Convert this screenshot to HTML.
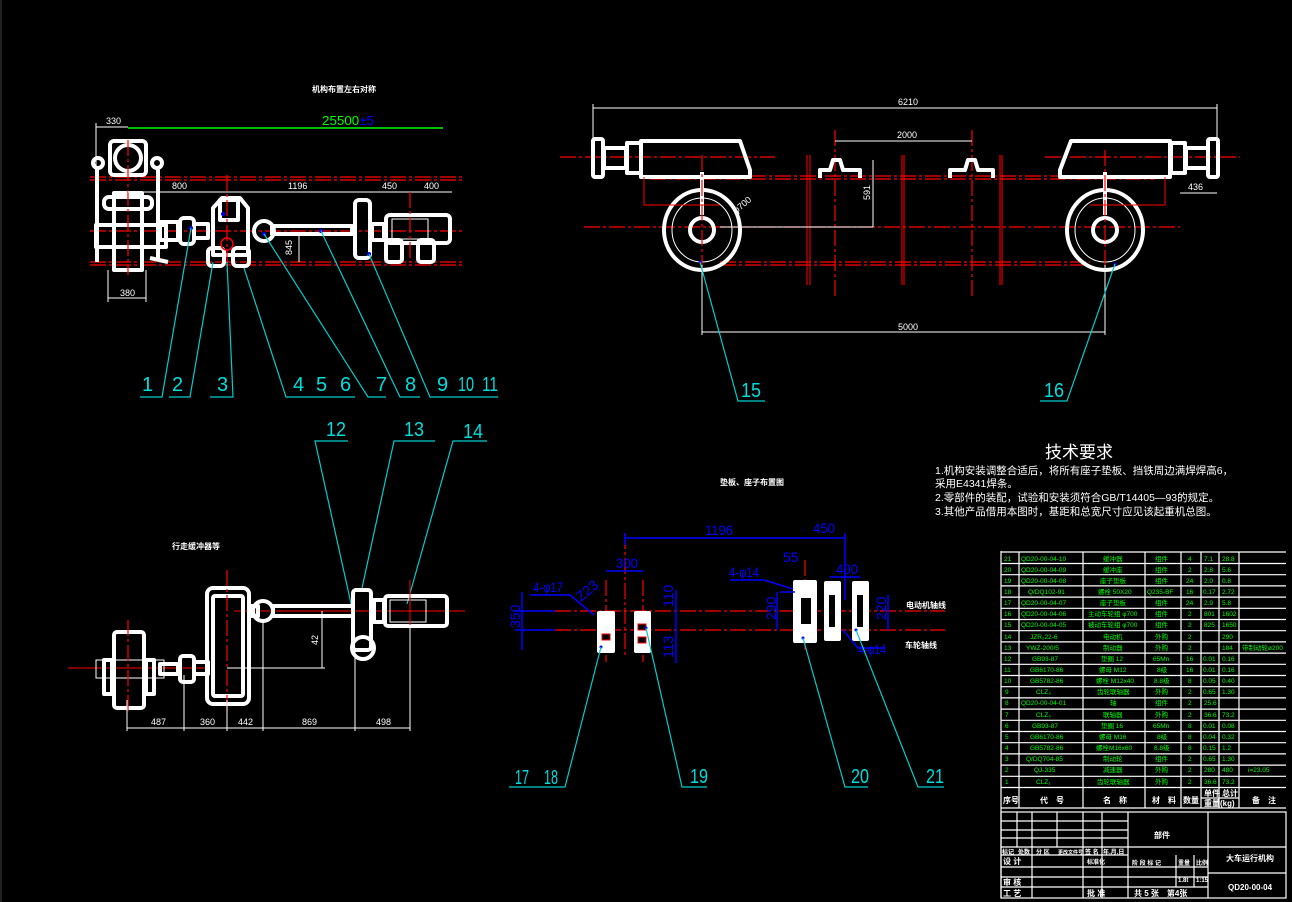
<!DOCTYPE html>
<html><head><meta charset="utf-8"><style>
html,body{margin:0;padding:0;background:#000;}
svg{display:block;}
text{font-family:"Liberation Sans","Noto Sans CJK SC",sans-serif;}
.w{fill:none;stroke:#fff;stroke-width:4;stroke-linejoin:round;}
.t{fill:none;stroke:#fff;stroke-width:1;}
.r{fill:none;stroke:#f00;stroke-width:1.2;stroke-dasharray:16 3 3 3;}
.rs{fill:none;stroke:#f00;stroke-width:1;}
.c{fill:none;stroke:#0cc;stroke-width:1.2;}
.b{fill:none;stroke:#00f;stroke-width:1.5;}
.lab{fill:#0dd;font-size:20px;}
.dim{fill:#fff;font-size:9px;}
.bd{fill:#00f;font-size:14px;}
.g{fill:#0f0;font-size:6.5px;}
.tb{fill:#fff;font-size:8px;font-weight:bold;}
</style></head><body>
<svg width="1292" height="902" viewBox="0 0 1292 902" xmlns="http://www.w3.org/2000/svg">
<rect x="0" y="0" width="1292" height="902" fill="#000"/>
<line x1="1" y1="0" x2="1" y2="902" stroke="#444"/>

<!-- ===== TOP LEFT ===== -->
<text x="312" y="92" class="tb" font-size="9">机构布置左右对称</text>
<line x1="128" y1="128" x2="443" y2="128" stroke="#0f0" stroke-width="1.5"/>
<text x="322" y="125" fill="#0f0" font-size="13" textLength="52" lengthAdjust="spacingAndGlyphs">25500<tspan fill="#00f">±5</tspan></text>
<line x1="96" y1="127" x2="128" y2="127" class="t"/><line x1="96" y1="123" x2="96" y2="170" class="t"/>
<text x="106" y="124" class="dim">330</text>
<line x1="90" y1="177" x2="465" y2="177" class="r"/><line x1="90" y1="180" x2="465" y2="180" class="r"/>
<line x1="90" y1="262" x2="465" y2="262" class="r"/><line x1="90" y1="265" x2="465" y2="265" class="r"/>
<line x1="90" y1="231" x2="465" y2="231" class="r"/>
<rect x="110" y="141" width="36" height="34" rx="4" class="w"/>
<circle cx="128" cy="158" r="13" class="w"/>
<circle cx="98" cy="163" r="5" class="w"/><circle cx="157" cy="163" r="5" class="w"/>
<line x1="97" y1="168" x2="97" y2="262" class="w"/><line x1="158" y1="168" x2="158" y2="258" class="w"/>
<rect x="114" y="193" width="28" height="77" class="w"/>
<rect x="104" y="197" width="48" height="12" rx="5" class="w"/>
<rect x="96" y="225" width="70" height="22" class="w"/>
<line x1="150" y1="258" x2="168" y2="262" class="w"/>
<line x1="128" y1="140" x2="128" y2="275" class="r"/>
<line x1="128" y1="192" x2="452" y2="192" class="t"/>
<text x="172" y="189" class="dim">800</text><text x="288" y="189" class="dim">1196</text>
<text x="382" y="189" class="dim">450</text><text x="424" y="189" class="dim">400</text>
<rect x="160" y="222" width="18" height="18" class="w"/><rect x="180" y="218" width="14" height="26" rx="4" class="w"/><rect x="194" y="224" width="14" height="14" class="w"/>
<path d="M213 222 L213 208 L222 198 L240 198 L248 208 L248 255 L213 255 Z" class="w"/>
<rect x="220" y="200" width="18" height="20" class="w"/>
<rect x="208" y="248" width="16" height="18" rx="4" class="w"/><rect x="233" y="248" width="16" height="18" rx="4" class="w"/>
<circle cx="227" cy="244" r="6" fill="none" stroke="#f00" stroke-width="1.5"/>
<line x1="227" y1="175" x2="227" y2="272" class="r"/>
<circle cx="264" cy="231" r="10" class="w"/>
<rect x="272" y="226" width="80" height="8" class="w"/>
<rect x="355" y="200" width="15" height="58" rx="4" class="w"/>
<rect x="372" y="224" width="12" height="16" class="w"/>
<rect x="386" y="215" width="64" height="28" rx="4" class="w"/>
<rect x="392" y="219" width="36" height="20" class="t"/>
<rect x="386" y="240" width="16" height="22" rx="3" class="w"/><rect x="418" y="240" width="16" height="22" rx="3" class="w"/>
<line x1="410" y1="192" x2="410" y2="262" class="r"/>
<line x1="299" y1="236" x2="299" y2="262" class="t"/><text x="292" y="255" class="dim" transform="rotate(-90 292 255)">845</text>
<line x1="108" y1="270" x2="108" y2="302" class="t"/><line x1="146" y1="270" x2="146" y2="302" class="t"/>
<line x1="108" y1="298" x2="146" y2="298" class="t"/><text x="120" y="296" class="dim">380</text>
<g fill="#00f"><circle cx="191" cy="228" r="2"/><circle cx="223" cy="214" r="2"/><circle cx="264" cy="234" r="2"/><circle cx="321" cy="231" r="2"/><circle cx="369" cy="254" r="2"/></g>
<g class="c">
<polyline points="191,228 162,397 140,397"/>
<polyline points="213,262 190,397 169,397"/>
<polyline points="227,262 233,397 210,397"/>
<polyline points="244,268 286,397 355,397"/>
<polyline points="264,234 368,397 386,397"/>
<polyline points="321,231 400,397 420,397"/>
<polyline points="369,254 430,397 498,397"/>
</g>
<g class="lab"><text x="142" y="391">1</text><text x="172" y="391">2</text><text x="217" y="391">3</text><text x="293" y="391">4</text><text x="316" y="391">5</text><text x="340" y="391">6</text><text x="376" y="391">7</text><text x="405" y="391">8</text><text x="437" y="391">9</text><text x="458" y="391" textLength="16" lengthAdjust="spacingAndGlyphs">10</text><text x="482" y="391" textLength="16" lengthAdjust="spacingAndGlyphs">11</text></g>

<!-- ===== TOP RIGHT ===== -->
<line x1="593" y1="108" x2="1217" y2="108" class="t"/><line x1="593" y1="104" x2="593" y2="140" class="t"/><line x1="1217" y1="104" x2="1217" y2="140" class="t"/>
<text x="898" y="105" class="dim">6210</text>
<line x1="560" y1="157" x2="775" y2="157" class="r"/><line x1="1045" y1="157" x2="1240" y2="157" class="r"/>
<line x1="584" y1="227" x2="1180" y2="227" class="r"/>
<line x1="650" y1="176" x2="1155" y2="176" class="r"/><line x1="650" y1="179" x2="1155" y2="179" class="r"/>
<line x1="720" y1="262" x2="1090" y2="262" class="r"/><line x1="720" y1="265" x2="1090" y2="265" class="r"/>
<g class="rs"><line x1="807" y1="155" x2="807" y2="285"/><line x1="810" y1="155" x2="810" y2="285"/><line x1="902" y1="155" x2="902" y2="285"/><line x1="904" y1="155" x2="904" y2="285"/><line x1="1000" y1="155" x2="1000" y2="285"/><line x1="1002" y1="155" x2="1002" y2="285"/></g>
<line x1="835" y1="130" x2="835" y2="298" class="r"/><line x1="972" y1="130" x2="972" y2="298" class="r"/>
<line x1="835" y1="141" x2="972" y2="141" class="t"/><text x="897" y="138" class="dim">2000</text>
<line x1="873" y1="160" x2="873" y2="227" class="t"/><text x="870" y="200" class="dim" transform="rotate(-90 870 200)">591</text>
<line x1="720" y1="227" x2="873" y2="227" class="t"/>
<rect x="593" y="139" width="10" height="38" rx="2" class="w"/><rect x="604" y="148" width="22" height="20" class="w"/>
<rect x="627" y="143" width="14" height="30" class="w"/>
<path d="M641 141 L740 141 L750 170 L750 177 L641 177 Z" class="w"/>
<path d="M1170 141 L1071 141 L1060 170 L1060 177 L1170 177 Z" class="w"/>
<rect x="1171" y="143" width="14" height="30" class="w"/><rect x="1186" y="148" width="22" height="20" class="w"/><rect x="1208" y="139" width="10" height="38" rx="2" class="w"/>
<path d="M820 178 L820 170 L830 170 L833 160 L840 160 L843 170 L860 170 L860 178" class="w"/>
<path d="M950 178 L950 170 L965 170 L968 160 L975 160 L978 170 L993 170 L993 178" class="w"/>
<ellipse cx="702" cy="230" rx="38" ry="40" class="w"/><ellipse cx="702" cy="230" rx="30" ry="32" class="t"/>
<circle cx="702" cy="230" r="12" class="w"/><line x1="702" y1="172" x2="702" y2="215" class="w"/>
<ellipse cx="1105" cy="230" rx="38" ry="40" class="w"/><ellipse cx="1105" cy="230" rx="30" ry="32" class="t"/>
<circle cx="1105" cy="230" r="12" class="w"/><line x1="1105" y1="172" x2="1105" y2="215" class="w"/>
<path d="M644 177 L644 205 L720 205" class="rs"/><path d="M1165 177 L1165 205 L1090 205" class="rs"/>
<line x1="702" y1="155" x2="702" y2="270" class="r"/><line x1="1105" y1="150" x2="1105" y2="270" class="r"/>
<text x="736" y="214" class="dim" font-size="7" transform="rotate(-40 736 214)">φ700</text>
<line x1="702" y1="265" x2="702" y2="335" class="t"/><line x1="1105" y1="265" x2="1105" y2="335" class="t"/>
<line x1="702" y1="332" x2="1105" y2="332" class="t"/><text x="898" y="330" class="dim">5000</text>
<line x1="1180" y1="193" x2="1217" y2="193" class="t"/><text x="1188" y="190" class="dim">436</text>
<circle cx="700" cy="262" r="1.5" fill="#00f"/><circle cx="1115" cy="264" r="1.5" fill="#00f"/>
<polyline points="700,262 738,401 765,401" class="c"/><polyline points="1115,264 1067,401 1040,401" class="c"/>
<text x="741" y="397" class="lab" textLength="20" lengthAdjust="spacingAndGlyphs">15</text><text x="1044" y="397" class="lab" textLength="20" lengthAdjust="spacingAndGlyphs">16</text>

<!-- ===== BOTTOM LEFT ===== -->
<text x="172" y="549" class="tb">行走缓冲器等</text>
<g class="c"><polyline points="348,441 315,441 352,608"/><polyline points="435,441 394,441 362,588"/><polyline points="487,441 453,441 407,604"/></g>
<text x="326" y="436" class="lab" textLength="20" lengthAdjust="spacingAndGlyphs">12</text><text x="404" y="436" class="lab" textLength="20" lengthAdjust="spacingAndGlyphs">13</text><text x="463" y="438" class="lab" textLength="20" lengthAdjust="spacingAndGlyphs">14</text>
<line x1="68" y1="668" x2="210" y2="668" class="rs"/><line x1="234" y1="611" x2="465" y2="611" class="rs"/>
<rect x="207" y="588" width="42" height="116" rx="6" class="w"/><rect x="213" y="596" width="30" height="100" rx="2" class="w"/>
<line x1="227" y1="570" x2="227" y2="712" class="r"/>
<rect x="250" y="606" width="8" height="10" class="w"/><circle cx="263" cy="611" r="10" class="w"/>
<rect x="273" y="606" width="80" height="10" class="w"/>
<rect x="353" y="590" width="18" height="60" rx="3" class="w"/><circle cx="363" cy="648" r="11" class="w"/>
<rect x="374" y="600" width="10" height="22" class="w"/>
<rect x="385" y="596" width="62" height="30" rx="3" class="w"/><rect x="390" y="600" width="36" height="22" class="t"/>
<line x1="410" y1="580" x2="410" y2="730" class="rs"/>
<rect x="114" y="632" width="30" height="76" rx="3" class="w"/><rect x="104" y="660" width="8" height="34" class="w"/><rect x="146" y="660" width="8" height="34" class="w"/>
<rect x="96" y="660" width="68" height="18" class="t"/>
<rect x="160" y="664" width="18" height="10" class="w"/><rect x="180" y="656" width="14" height="26" rx="3" class="w"/><rect x="194" y="662" width="14" height="12" class="w"/>
<line x1="128" y1="620" x2="128" y2="712" class="r"/>
<line x1="227" y1="668" x2="325" y2="668" class="t"/><line x1="322" y1="611" x2="322" y2="668" class="t"/>
<text x="318" y="645" class="dim" font-size="7" transform="rotate(-90 318 645)">42</text>
<line x1="127" y1="728" x2="410" y2="728" class="t"/>
<g class="t"><line x1="127" y1="700" x2="127" y2="731"/><line x1="184" y1="675" x2="184" y2="731"/><line x1="227" y1="700" x2="227" y2="731"/><line x1="263" y1="620" x2="263" y2="731"/><line x1="355" y1="650" x2="355" y2="731"/><line x1="410" y1="625" x2="410" y2="731"/></g>
<g class="dim" font-size="8"><text x="151" y="725">487</text><text x="200" y="725">360</text><text x="238" y="725">442</text><text x="302" y="725">869</text><text x="376" y="725">498</text></g>

<!-- ===== BOTTOM MIDDLE ===== -->
<text x="720" y="485" class="tb">垫板、座子布置图</text>
<line x1="555" y1="611" x2="945" y2="611" class="r"/><line x1="555" y1="630" x2="945" y2="630" class="r"/>
<line x1="625" y1="533" x2="625" y2="655" class="r"/><line x1="606" y1="580" x2="606" y2="662" class="r"/><line x1="643" y1="580" x2="643" y2="662" class="r"/>
<line x1="805" y1="560" x2="805" y2="650" class="r"/>
<line x1="625" y1="538" x2="845" y2="538" class="b"/><line x1="845" y1="533" x2="845" y2="600" class="b"/><line x1="625" y1="533" x2="625" y2="545" class="b"/>
<text x="705" y="535" class="bd" textLength="28" lengthAdjust="spacingAndGlyphs">1196</text><text x="813" y="533" class="bd" textLength="22" lengthAdjust="spacingAndGlyphs">450</text>
<line x1="606" y1="571" x2="643" y2="571" class="b"/><text x="616" y="568" class="bd" textLength="22" lengthAdjust="spacingAndGlyphs">300</text>
<line x1="522" y1="592" x2="522" y2="650" class="b"/><line x1="515" y1="611" x2="555" y2="611" class="b"/><line x1="515" y1="630" x2="555" y2="630" class="b"/>
<text x="520" y="628" class="bd" transform="rotate(-90 520 628)">350</text>
<line x1="676" y1="590" x2="676" y2="663" class="b"/><text x="673" y="607" class="bd" font-size="11" transform="rotate(-90 673 607)">110</text><text x="673" y="658" class="bd" font-size="11" transform="rotate(-90 673 658)">113</text>
<polyline points="530,595 570,595 594,615" class="b"/><text x="533" y="592" class="bd" textLength="30" lengthAdjust="spacingAndGlyphs">4-φ17</text>
<text x="581" y="602" class="bd" font-size="11" transform="rotate(-40 581 602)">Z23</text>
<rect x="597" y="611" width="18" height="42" rx="2" fill="#fff"/><rect x="634" y="611" width="17" height="42" rx="2" fill="#fff"/>
<g fill="#000" stroke="#f00" stroke-width="1"><rect x="602" y="634" width="8" height="6"/><rect x="638" y="624" width="8" height="6"/><rect x="638" y="637" width="8" height="6"/></g>
<rect x="793" y="580" width="24" height="63" rx="2" fill="#fff"/><rect x="801" y="598" width="10" height="26" fill="#000"/>
<rect x="824" y="581" width="17" height="60" rx="2" fill="#fff"/><rect x="829" y="595" width="6" height="32" fill="#000"/>
<rect x="852" y="581" width="17" height="60" rx="2" fill="#fff"/><rect x="857" y="595" width="6" height="32" fill="#000"/>
<line x1="780" y1="592" x2="795" y2="592" class="b"/><line x1="777" y1="592" x2="777" y2="630" class="b"/>
<text x="776" y="620" class="bd" transform="rotate(-90 776 620)">290</text>
<line x1="888" y1="595" x2="888" y2="630" class="b"/><text x="886" y="620" class="bd" transform="rotate(-90 886 620)">220</text>
<line x1="830" y1="577" x2="860" y2="577" class="b"/><text x="836" y="574" class="bd" textLength="22" lengthAdjust="spacingAndGlyphs">400</text>
<text x="783" y="562" class="bd" font-size="12">55</text>
<polyline points="730,580 764,580 793,589" class="b"/><text x="729" y="577" class="bd" textLength="30" lengthAdjust="spacingAndGlyphs">4-φ14</text>
<polyline points="843,630 858,648 885,648" class="b"/><text x="858" y="654" class="bd" textLength="28" lengthAdjust="spacingAndGlyphs">4-φ14</text>
<text x="906" y="608" class="tb" font-size="7">电动机轴线</text><text x="905" y="648" class="tb" font-size="7">车轮轴线</text>
<g fill="#00f"><circle cx="601" cy="647" r="1.5"/><circle cx="646" cy="628" r="1.5"/><circle cx="803" cy="638" r="1.5"/><circle cx="856" cy="630" r="1.5"/></g>
<g class="c"><polyline points="601,647 565,787 509,787"/><polyline points="646,628 682,787 707,787"/><polyline points="803,638 845,787 868,787"/><polyline points="856,630 918,787 944,787"/></g>
<text x="515" y="784" class="lab" font-size="15" textLength="14" lengthAdjust="spacingAndGlyphs">17</text><text x="544" y="784" class="lab" font-size="15" textLength="14" lengthAdjust="spacingAndGlyphs">18</text>
<text x="690" y="783" class="lab" textLength="18" lengthAdjust="spacingAndGlyphs">19</text><text x="851" y="783" class="lab" textLength="18" lengthAdjust="spacingAndGlyphs">20</text><text x="926" y="783" class="lab" textLength="18" lengthAdjust="spacingAndGlyphs">21</text>

<!-- ===== TECH REQUIREMENTS ===== -->
<text x="1045" y="458" fill="#fff" font-size="17">技术要求</text>
<g fill="#fff" font-size="10.5">
<text x="935" y="474">1.机构安装调整合适后，将所有座子垫板、挡铁周边满焊焊高6，</text>
<text x="935" y="487">采用E4341焊条。</text>
<text x="935" y="501">2.零部件的装配，试验和安装须符合GB/T14405—93的规定。</text>
<text x="935" y="515">3.其他产品借用本图时，基距和总宽尺寸应见该起重机总图。</text>
</g>

<!-- ===== PARTS TABLE ===== -->
<g stroke="#fff" stroke-width="1.2" fill="none">
<line x1="1001" y1="551" x2="1001" y2="898"/>
<line x1="1001" y1="552" x2="1286" y2="552"/>
<line x1="1019" y1="552" x2="1019" y2="808"/><line x1="1083" y1="552" x2="1083" y2="808"/><line x1="1145" y1="552" x2="1145" y2="808"/><line x1="1181" y1="552" x2="1181" y2="808"/><line x1="1201" y1="552" x2="1201" y2="808"/><line x1="1219" y1="552" x2="1219" y2="808"/><line x1="1239" y1="552" x2="1239" y2="808"/>
<line x1="1201" y1="798" x2="1239" y2="798"/>
<line x1="1001" y1="808" x2="1286" y2="808"/>
<rect x="1001" y="812" width="285" height="86"/>
<line x1="1001" y1="821" x2="1128" y2="821"/><line x1="1001" y1="830" x2="1128" y2="830"/><line x1="1001" y1="838" x2="1128" y2="838"/><line x1="1001" y1="847" x2="1286" y2="847"/><line x1="1001" y1="855" x2="1128" y2="855"/><line x1="1001" y1="867" x2="1208" y2="867"/><line x1="1001" y1="877" x2="1208" y2="877"/><line x1="1001" y1="887" x2="1208" y2="887"/>
<line x1="1017" y1="812" x2="1017" y2="847"/><line x1="1032" y1="812" x2="1032" y2="898"/><line x1="1057" y1="812" x2="1057" y2="847"/><line x1="1083" y1="812" x2="1083" y2="898"/><line x1="1102" y1="812" x2="1102" y2="898"/><line x1="1128" y1="812" x2="1128" y2="898"/><line x1="1208" y1="812" x2="1208" y2="898"/>
<line x1="1176" y1="855" x2="1176" y2="887"/><line x1="1194" y1="855" x2="1194" y2="887"/>
<line x1="1208" y1="873" x2="1286" y2="873"/>
</g>
<g stroke="#fff" stroke-width="1.2">
<line x1="1001" y1="563.5" x2="1286" y2="563.5"/><line x1="1001" y1="574.7" x2="1286" y2="574.7"/><line x1="1001" y1="585.9" x2="1286" y2="585.9"/><line x1="1001" y1="597.1" x2="1286" y2="597.1"/><line x1="1001" y1="608.3" x2="1286" y2="608.3"/><line x1="1001" y1="619.5" x2="1286" y2="619.5"/><line x1="1001" y1="630.7" x2="1286" y2="630.7"/><line x1="1001" y1="641.9" x2="1286" y2="641.9"/><line x1="1001" y1="653.1" x2="1286" y2="653.1"/><line x1="1001" y1="664.3" x2="1286" y2="664.3"/><line x1="1001" y1="675.5" x2="1286" y2="675.5"/><line x1="1001" y1="686.7" x2="1286" y2="686.7"/><line x1="1001" y1="697.9" x2="1286" y2="697.9"/><line x1="1001" y1="709.1" x2="1286" y2="709.1"/><line x1="1001" y1="720.3" x2="1286" y2="720.3"/><line x1="1001" y1="731.5" x2="1286" y2="731.5"/><line x1="1001" y1="742.7" x2="1286" y2="742.7"/><line x1="1001" y1="753.9" x2="1286" y2="753.9"/><line x1="1001" y1="765.1" x2="1286" y2="765.1"/><line x1="1001" y1="776.3" x2="1286" y2="776.3"/><line x1="1001" y1="787.5" x2="1286" y2="787.5"/>
</g>
<g class="g">
<text x="1004" y="561">21</text><text x="1021" y="561">QD20-00-04-10</text><text x="1103" y="561">缓冲器</text><text x="1155" y="561">组件</text><text x="1188" y="561">4</text><text x="1204" y="561">7.1</text><text x="1222" y="561">28.8</text>
<text x="1004" y="572">20</text><text x="1021" y="572">QD20-00-04-09</text><text x="1103" y="572">缓冲座</text><text x="1155" y="572">组件</text><text x="1188" y="572">2</text><text x="1204" y="572">2.8</text><text x="1222" y="572">5.6</text>
<text x="1004" y="583">19</text><text x="1021" y="583">QD20-00-04-08</text><text x="1100" y="583">座子垫板</text><text x="1155" y="583">组件</text><text x="1186" y="583">24</text><text x="1204" y="583">2.0</text><text x="1222" y="583">0.8</text>
<text x="1004" y="594">18</text><text x="1028" y="594">Q/DQ102-91</text><text x="1098" y="594">螺栓 50X20</text><text x="1147" y="594">Q235-BF</text><text x="1186" y="594">16</text><text x="1203" y="594">0.17</text><text x="1222" y="594">2.72</text>
<text x="1004" y="605">17</text><text x="1021" y="605">QD20-00-04-07</text><text x="1100" y="605">座子垫板</text><text x="1155" y="605">组件</text><text x="1186" y="605">24</text><text x="1204" y="605">2.9</text><text x="1222" y="605">5.8</text>
<text x="1004" y="616">16</text><text x="1021" y="616">QD20-00-04-06</text><text x="1088" y="616">主动车轮组 φ700</text><text x="1155" y="616">组件</text><text x="1188" y="616">2</text><text x="1204" y="616">801</text><text x="1222" y="616">1602</text>
<text x="1004" y="627">15</text><text x="1021" y="627">QD20-00-04-05</text><text x="1088" y="627">被动车轮组 φ700</text><text x="1155" y="627">组件</text><text x="1188" y="627">2</text><text x="1204" y="627">825</text><text x="1222" y="627">1650</text>
<text x="1004" y="639">14</text><text x="1030" y="639">JZR₂22-6</text><text x="1103" y="639">电动机</text><text x="1155" y="639">外购</text><text x="1188" y="639">2</text><text x="1222" y="639">290</text>
<text x="1004" y="650">13</text><text x="1026" y="650">YWZ-200/5</text><text x="1103" y="650">制动器</text><text x="1155" y="650">外购</text><text x="1188" y="650">2</text><text x="1222" y="650">184</text><text x="1242" y="650">带制动轮ø200</text>
<text x="1004" y="661">12</text><text x="1032" y="661">GB93-87</text><text x="1101" y="661">垫圈 12</text><text x="1153" y="661">65Mn</text><text x="1186" y="661">16</text><text x="1203" y="661">0.01</text><text x="1222" y="661">0.16</text>
<text x="1004" y="672">11</text><text x="1030" y="672">GB6170-86</text><text x="1099" y="672">螺母 M12</text><text x="1157" y="672">8级</text><text x="1186" y="672">16</text><text x="1203" y="672">0.01</text><text x="1222" y="672">0.16</text>
<text x="1004" y="683">10</text><text x="1030" y="683">GB5782-86</text><text x="1096" y="683">螺栓 M12x40</text><text x="1154" y="683">8.8级</text><text x="1188" y="683">8</text><text x="1203" y="683">0.05</text><text x="1222" y="683">0.40</text>
<text x="1005" y="694">9</text><text x="1036" y="694">CLZ₃</text><text x="1097" y="694">齿轮联轴器</text><text x="1155" y="694">外购</text><text x="1188" y="694">2</text><text x="1203" y="694">0.65</text><text x="1222" y="694">1.30</text>
<text x="1005" y="705">8</text><text x="1021" y="705">QD20-00-04-01</text><text x="1110" y="705">轴</text><text x="1155" y="705">组件</text><text x="1188" y="705">2</text><text x="1204" y="705">25.6</text>
<text x="1005" y="717">7</text><text x="1036" y="717">CLZ₃</text><text x="1103" y="717">联轴器</text><text x="1155" y="717">外购</text><text x="1188" y="717">2</text><text x="1204" y="717">36.6</text><text x="1222" y="717">73.2</text>
<text x="1005" y="728">6</text><text x="1032" y="728">GB93-87</text><text x="1101" y="728">垫圈 16</text><text x="1153" y="728">65Mn</text><text x="1188" y="728">8</text><text x="1203" y="728">0.01</text><text x="1222" y="728">0.08</text>
<text x="1005" y="739">5</text><text x="1030" y="739">GB6170-86</text><text x="1099" y="739">螺母 M16</text><text x="1157" y="739">8级</text><text x="1188" y="739">8</text><text x="1203" y="739">0.04</text><text x="1222" y="739">0.32</text>
<text x="1005" y="750">4</text><text x="1030" y="750">GB5782-86</text><text x="1096" y="750">螺栓M16x60</text><text x="1154" y="750">8.8级</text><text x="1188" y="750">8</text><text x="1203" y="750">0.15</text><text x="1222" y="750">1.2</text>
<text x="1005" y="761">3</text><text x="1026" y="761">Q/DQ704-85</text><text x="1103" y="761">制动轮</text><text x="1155" y="761">组件</text><text x="1188" y="761">2</text><text x="1203" y="761">0.65</text><text x="1222" y="761">1.30</text>
<text x="1005" y="772">2</text><text x="1034" y="772">QJ-335</text><text x="1103" y="772">减速器</text><text x="1155" y="772">外购</text><text x="1188" y="772">2</text><text x="1204" y="772">280</text><text x="1222" y="772">480</text><text x="1248" y="772">i=23.05</text>
<text x="1005" y="784">1</text><text x="1036" y="784">CLZ₁</text><text x="1097" y="784">齿轮联轴器</text><text x="1155" y="784">外购</text><text x="1188" y="784">2</text><text x="1204" y="784">36.6</text><text x="1222" y="784">73.2</text>
</g>
<g class="tb" font-size="6.5">
<text x="1003" y="803">序号</text><text x="1040" y="803">代　号</text><text x="1103" y="803">名　称</text><text x="1152" y="803">材　料</text><text x="1183" y="803">数量</text><text x="1204" y="796">单件</text><text x="1222" y="796">总计</text><text x="1204" y="806">重量(kg)</text><text x="1252" y="803">备　注</text>
<text x="1002" y="854" font-size="6">标记</text><text x="1018" y="854" font-size="6">处数</text><text x="1036" y="854" font-size="6">分 区</text><text x="1058" y="854" font-size="5">更改文件号</text><text x="1085" y="854" font-size="6">签 名</text><text x="1103" y="854" font-size="6">年.月.日</text>
<text x="1003" y="864">设 计</text><text x="1087" y="864" font-size="6">标准化</text>
<text x="1003" y="885">审 核</text><text x="1003" y="896">工 艺</text><text x="1087" y="896">批 准</text>
<text x="1132" y="865" font-size="6">阶 段 标 记</text><text x="1178" y="865" font-size="6">重量</text><text x="1196" y="865" font-size="6">比例</text>
<text x="1178" y="882" font-size="6">1.8t</text><text x="1196" y="882" font-size="6">1:15</text>
<text x="1134" y="896">共 5 张　第4张</text>
</g>
<text x="1154" y="838" class="tb" font-size="15">部件</text>
<text x="1226" y="861" class="tb" font-size="10">大车运行机构</text>
<text x="1228" y="890" class="tb" font-size="10">QD20-00-04</text>
</svg>
</body></html>
